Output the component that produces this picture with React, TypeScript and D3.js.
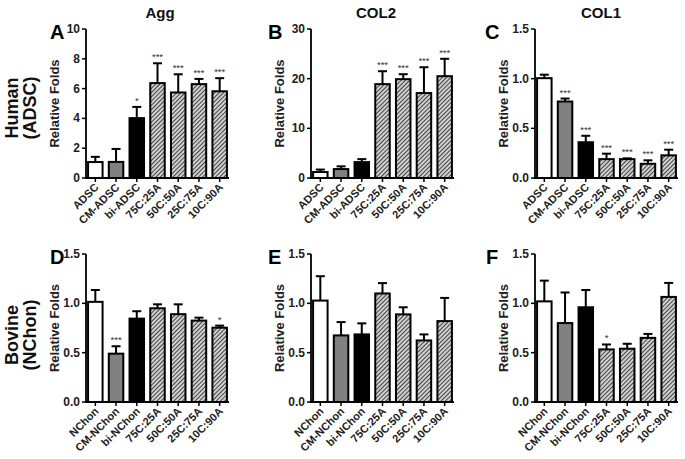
import * as d3 from "d3";

const humanGroups = ["ADSC", "CM-ADSC", "bi-ADSC", "75C:25A", "50C:50A", "25C:75A", "10C:90A"];
const bovineGroups = ["NChon", "CM-NChon", "bi-NChon", "75C:25A", "50C:50A", "25C:75A", "10C:90A"];
const fills = ["white", "gray", "black", "hatch", "hatch", "hatch", "hatch"];

const aggMean = [1.07, 1.08, 4.02, 6.37, 5.74, 6.3, 5.82];
const aggErr = [1.42, 1.95, 4.77, 7.7, 6.96, 6.65, 6.7];
const aggSig = ["", "", "*", "***", "***", "***", "***"];

const col2Mean = [1.2, 1.8, 3.2, 18.9, 19.9, 17.1, 20.5];
const col2Err = [1.7, 2.35, 3.8, 21.5, 20.9, 22.3, 24.0];
const col2Sig = ["", "", "", "***", "***", "***", "***"];

const col1hMean = [1.005, 0.77, 0.36, 0.19, 0.19, 0.143, 0.228];
const col1hErr = [1.04, 0.8, 0.425, 0.245, 0.198, 0.178, 0.285];
const col1hSig = ["", "***", "***", "***", "***", "***", "***"];

const aggBMean = [1.015, 0.49, 0.845, 0.95, 0.89, 0.825, 0.753];
const aggBErr = [1.135, 0.565, 0.92, 0.99, 0.99, 0.855, 0.774];
const aggBSig = ["", "***", "", "", "", "", "*"];

const col2BMean = [1.028, 0.675, 0.685, 1.1, 0.888, 0.624, 0.82];
const col2BErr = [1.275, 0.81, 0.797, 1.205, 0.96, 0.685, 1.055];
const col2BSig = ["", "", "", "", "", "", ""];

const col1BMean = [1.02, 0.8, 0.96, 0.533, 0.54, 0.65, 1.065];
const col1BErr = [1.23, 1.11, 1.135, 0.583, 0.59, 0.69, 1.207];
const col1BSig = ["", "", "", "*", "", "", ""];

const FONT = "'Liberation Sans', Arial, sans-serif";

interface PanelProps {
  letter: string;
  groups: string[];
  mean: number[];
  err: number[];
  sig: string[];
  max: number;
  ticks: number[];
  fmt: (v: number) => string;
  axisX: number;
  yTop: number;
  yZero: number;
  letterDx: number;
}

function Panel(p: PanelProps) {
  const x = d3.scaleBand<string>().domain(p.groups).range([p.axisX, p.axisX + 143])
    .paddingInner(0.3).paddingOuter(0.1);
  const y = d3.scaleLinear().domain([0, p.max]).range([p.yZero, p.yTop]);
  const bw = x.bandwidth();
  const fillOf = (f: string) => f === "white" ? "#fff" : f === "gray" ? "#808080" : f === "black" ? "#000" : "url(#hatch)";
  const midY = (p.yTop + p.yZero) / 2;
  return (
    <g fontFamily={FONT}>
      <text x={p.axisX + p.letterDx} y={p.yTop + 10} fontSize={20} fontWeight="bold" fill="#000">{p.letter}</text>
      <text transform={`translate(${p.axisX - 27},${midY}) rotate(-90)`} textAnchor="middle"
        fontSize={13} fontWeight="bold" fill="#222">Relative Folds</text>
      {p.groups.map((g, i) => {
        const cx = x(g)! + bw / 2;
        const yb = y(p.mean[i]);
        const ye = y(p.err[i]);
        return (
          <g key={g}>
            <line x1={cx} x2={cx} y1={yb} y2={ye} stroke="#000" strokeWidth={2} />
            <line x1={cx - 4.5} x2={cx + 4.5} y1={ye} y2={ye} stroke="#000" strokeWidth={2} />
            <rect x={x(g)!} y={yb} width={bw} height={p.yZero - yb} fill={fillOf(fills[i])} stroke="#000" strokeWidth={2} />
            {p.sig[i] && (
              <text x={cx} y={ye - 3} textAnchor="middle" fontSize={9.5} fill="#333">{p.sig[i]}</text>
            )}
            <line x1={cx} x2={cx} y1={p.yZero} y2={p.yZero + 4} stroke="#000" strokeWidth={1.5} />
            <text transform={`translate(${cx + 4},${p.yZero + 10}) rotate(-45)`} textAnchor="end"
              fontSize={11} fontWeight="bold" fill="#222">{g}</text>
          </g>
        );
      })}
      <line x1={p.axisX} x2={p.axisX} y1={p.yTop} y2={p.yZero} stroke="#000" strokeWidth={1.8} />
      <line x1={p.axisX - 1} x2={p.axisX + 143} y1={p.yZero} y2={p.yZero} stroke="#000" strokeWidth={1.8} />
      {p.ticks.map(t => (
        <g key={t}>
          <line x1={p.axisX - 4} x2={p.axisX} y1={y(t)} y2={y(t)} stroke="#000" strokeWidth={1.5} />
          <text x={p.axisX - 6} y={y(t) + 4} textAnchor="end" fontSize={12} fontWeight="bold" fill="#222">{p.fmt(t)}</text>
        </g>
      ))}
    </g>
  );
}

export default function App() {
  const f0 = (v: number) => d3.format("d")(v);
  const f1 = (v: number) => d3.format(".1f")(v);
  const tH = [0, 0.5, 1, 1.5];
  return (
    <svg width={685} height={459} style={{ position: "absolute", left: 0, top: 0, background: "#fff" }}>
      <defs>
        <pattern id="hatch" patternUnits="userSpaceOnUse" width={3} height={3} patternTransform="rotate(45)">
          <rect width={3} height={3} fill="#fff" />
          <line x1={1.5} x2={1.5} y1={0} y2={3} stroke="#444" strokeWidth={1.5} />
        </pattern>
      </defs>
      <g fontFamily={FONT} fontWeight="bold" fontSize={15} textAnchor="middle" fill="#111">
        <text x={160} y={18}>Agg</text>
        <text x={376} y={18}>COL2</text>
        <text x={601} y={18}>COL1</text>
      </g>
      <g fontFamily={FONT} fontWeight="bold" fontSize={18} textAnchor="middle" fill="#111">
        <text transform="translate(18,108) rotate(-90)">Human</text>
        <text transform="translate(36,108) rotate(-90)">(ADSC)</text>
        <text transform="translate(18,335) rotate(-90)">Bovine</text>
        <text transform="translate(36,335) rotate(-90)">(NChon)</text>
      </g>
      <Panel letter="A" groups={humanGroups} mean={aggMean} err={aggErr} sig={aggSig} max={10}
        ticks={[0, 2, 4, 6, 8, 10]} fmt={f0} axisX={86} yTop={29} yZero={178} letterDx={-36} />
      <Panel letter="B" groups={humanGroups} mean={col2Mean} err={col2Err} sig={col2Sig} max={30}
        ticks={[0, 10, 20, 30]} fmt={f0} axisX={311} yTop={29} yZero={178} letterDx={-43} />
      <Panel letter="C" groups={humanGroups} mean={col1hMean} err={col1hErr} sig={col1hSig} max={1.5}
        ticks={tH} fmt={f1} axisX={535} yTop={29} yZero={178} letterDx={-50} />
      <Panel letter="D" groups={bovineGroups} mean={aggBMean} err={aggBErr} sig={aggBSig} max={1.5}
        ticks={tH} fmt={f1} axisX={86} yTop={254} yZero={402} letterDx={-36} />
      <Panel letter="E" groups={bovineGroups} mean={col2BMean} err={col2BErr} sig={col2BSig} max={1.5}
        ticks={tH} fmt={f1} axisX={311} yTop={254} yZero={402} letterDx={-43} />
      <Panel letter="F" groups={bovineGroups} mean={col1BMean} err={col1BErr} sig={col1BSig} max={1.5}
        ticks={tH} fmt={f1} axisX={535} yTop={254} yZero={402} letterDx={-49} />
    </svg>
  );
}
